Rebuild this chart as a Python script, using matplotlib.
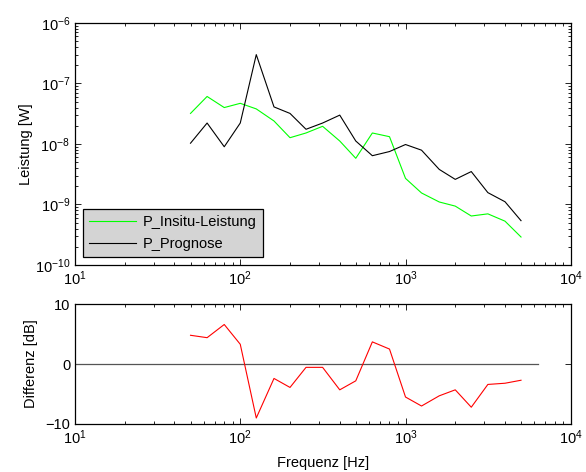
import numpy as np
import matplotlib.pyplot as plt
from matplotlib.ticker import LogLocator, NullFormatter

plt.rcParams['font.family'] = ['Liberation Sans', 'DejaVu Sans']
plt.rcParams['font.size'] = 10

# Terzband-Mittenfrequenzen
freq = [50, 63, 80, 100, 125, 160, 200, 250, 315, 400, 500,
        630, 800, 1000, 1250, 1600, 2000, 2500, 3150, 4000, 5000]

p_insitu = [3.2e-8, 6.1e-8, 4.0e-8, 4.7e-8, 3.8e-8, 2.4e-8, 1.27e-8, 1.52e-8, 1.96e-8, 1.12e-8, 5.8e-9,
            1.52e-8, 1.32e-8, 2.7e-9, 1.55e-9, 1.1e-9, 9.4e-10, 6.45e-10, 7.0e-10, 5.3e-10, 2.9e-10]
p_prognose = [1.03e-8, 2.22e-8, 9.0e-9, 2.22e-8, 3.0e-7, 4.1e-8, 3.2e-8, 1.75e-8, 2.22e-8, 3.0e-8, 1.12e-8,
              6.4e-9, 7.5e-9, 9.8e-9, 7.9e-9, 3.8e-9, 2.6e-9, 3.5e-9, 1.57e-9, 1.11e-9, 5.4e-10]
differenz = [4.8, 4.4, 6.6, 3.3, -9.0, -2.4, -3.9, -0.55, -0.55, -4.3, -2.8,
             3.7, 2.5, -5.5, -7.0, -5.3, -4.3, -7.2, -3.4, -3.2, -2.7]
null_x = [10, 6300]
null_y = [0, 0]

fig = plt.figure(figsize=(5.86, 4.72), dpi=100)
ax1 = fig.add_axes([0.128, 0.4386, 0.846, 0.5127])
ax2 = fig.add_axes([0.128, 0.1017, 0.846, 0.254])

ax1.loglog(freq, p_insitu, color='#00ff00', lw=0.8, label='P_Insitu-Leistung')
ax1.loglog(freq, p_prognose, color='black', lw=0.8, label='P_Prognose')
ax1.set_xlim(10, 1e4)
ax1.set_ylim(1e-10, 1e-6)
ax1.set_ylabel('Leistung [W]', fontsize=10.5, labelpad=1)
leg = ax1.legend(loc='lower left', fancybox=False, framealpha=1, borderaxespad=0.55,
                 handlelength=3.2, handletextpad=0.5, fontsize=10.5, borderpad=0.4,
                 labelspacing=0.55)
leg.get_frame().set_facecolor('#d4d4d4')
leg.get_frame().set_edgecolor('black')
leg.get_frame().set_linewidth(0.9)

ax2.semilogx(null_x, null_y, color='#555555', lw=0.9)
ax2.semilogx(freq, differenz, color='red', lw=0.8)
ax2.set_xlim(10, 1e4)
ax2.set_ylim(-10, 10)
ax2.set_yticks([-10, 0, 10])
ax2.set_ylabel('Differenz [dB]', fontsize=10.5, labelpad=5)
ax2.set_xlabel('Frequenz [Hz]', fontsize=10.5, labelpad=6)

for ax in (ax1, ax2):
    ax.tick_params(which='both', direction='in', top=True, right=True, width=0.6)
    ax.tick_params(which='major', length=4, labelsize=10.5)
    ax.tick_params(which='minor', length=2)
    ax.xaxis.set_minor_locator(LogLocator(base=10, subs=np.arange(2, 10)))
    ax.xaxis.set_minor_formatter(NullFormatter())
    for s in ax.spines.values():
        s.set_linewidth(0.9)
ax1.yaxis.set_minor_locator(LogLocator(base=10, subs=np.arange(2, 10)))
ax1.yaxis.set_minor_formatter(NullFormatter())

fig.savefig('out.png', dpi=100)
